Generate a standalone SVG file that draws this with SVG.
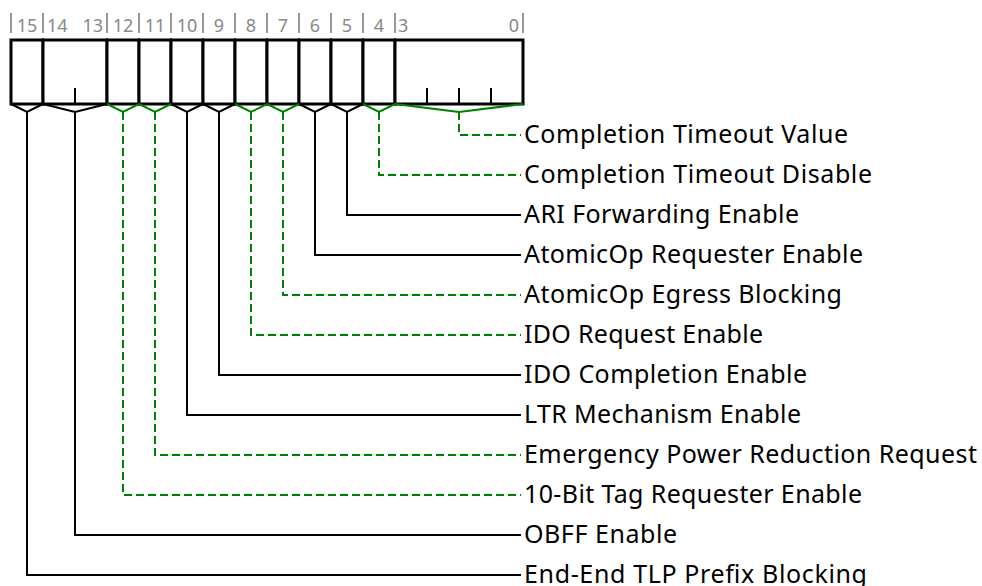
<svg xmlns="http://www.w3.org/2000/svg" width="982" height="586" viewBox="0 0 982 586">
<style>
.box{fill:#fff;stroke:#000;stroke-width:3}
.tick{stroke:#000;stroke-width:2}
.sep{stroke:#999;stroke-width:2}
.bit{font-family:"Noto Sans","Liberation Sans",sans-serif;font-size:18px;fill:#888}
.mid{text-anchor:middle}
.end{text-anchor:end}
.lbl{font-family:"Noto Sans","Liberation Sans",sans-serif;font-size:25px;fill:#000}
.c{fill:none;stroke:#000;stroke-width:2}
.g{fill:none;stroke:#008000;stroke-width:2}
.d{stroke-dasharray:8 4}
</style>
<rect width="982" height="586" fill="#fff"/>
<g id="separators">
<path class="sep" d="M11,13V33M43,13V33M107,13V33M139,13V33M171,13V33M203,13V33M235,13V33M267,13V33M299,13V33M331,13V33M363,13V33M395,13V33M523,13V33"/>
</g>
<g id="bit15"><rect class="box" x="11" y="40" width="32" height="64"/><text class="bit mid" x="27" y="32">15</text></g>
<g id="bit14_13"><rect class="box" x="43" y="40" width="64" height="64"/><line class="tick" x1="75" y1="88" x2="75" y2="104"/><text class="bit" x="47" y="32">14</text><text class="bit end" x="103" y="32">13</text></g>
<g id="bit12"><rect class="box" x="107" y="40" width="32" height="64"/><text class="bit mid" x="123" y="32">12</text></g>
<g id="bit11"><rect class="box" x="139" y="40" width="32" height="64"/><text class="bit mid" x="155" y="32">11</text></g>
<g id="bit10"><rect class="box" x="171" y="40" width="32" height="64"/><text class="bit mid" x="187" y="32">10</text></g>
<g id="bit9"><rect class="box" x="203" y="40" width="32" height="64"/><text class="bit mid" x="219" y="32">9</text></g>
<g id="bit8"><rect class="box" x="235" y="40" width="32" height="64"/><text class="bit mid" x="251" y="32">8</text></g>
<g id="bit7"><rect class="box" x="267" y="40" width="32" height="64"/><text class="bit mid" x="283" y="32">7</text></g>
<g id="bit6"><rect class="box" x="299" y="40" width="32" height="64"/><text class="bit mid" x="315" y="32">6</text></g>
<g id="bit5"><rect class="box" x="331" y="40" width="32" height="64"/><text class="bit mid" x="347" y="32">5</text></g>
<g id="bit4"><rect class="box" x="363" y="40" width="32" height="64"/><text class="bit mid" x="379" y="32">4</text></g>
<g id="bit3_0"><rect class="box" x="395" y="40" width="128" height="64"/><path class="tick" d="M427,88V104M459,88V104M491,88V104"/><text class="bit" x="398" y="32">3</text><text class="bit end" x="519" y="32">0</text></g>

<g id="connectors">
<path class="g" d="M395,104L459,112L523,104"/><path class="g d" d="M459,112V135H521"/>
<path class="g" d="M363,104L379,112L395,104"/><path class="g d" d="M379,112V175H521"/>
<path class="c" d="M331,104L347,112L363,104M347,112V215H521"/>
<path class="c" d="M299,104L315,112L331,104M315,112V255H521"/>
<path class="g" d="M267,104L283,112L299,104"/><path class="g d" d="M283,112V295H521"/>
<path class="g" d="M235,104L251,112L267,104"/><path class="g d" d="M251,112V335H521"/>
<path class="c" d="M203,104L219,112L235,104M219,112V375H521"/>
<path class="c" d="M171,104L187,112L203,104M187,112V415H521"/>
<path class="g" d="M139,104L155,112L171,104"/><path class="g d" d="M155,112V455H521"/>
<path class="g" d="M107,104L123,112L139,104"/><path class="g d" d="M123,112V495H521"/>
<path class="c" d="M43,104L75,112L107,104M75,112V535H521"/>
<path class="c" d="M11,104L27,112L43,104M27,112V575H521"/>
</g>

<g id="label-ctv"><text class="lbl" x="524" y="143" textLength="324">Completion Timeout Value</text></g>
<g id="label-ctd"><text class="lbl" x="524" y="183" textLength="348">Completion Timeout Disable</text></g>
<g id="label-ari"><text class="lbl" x="524" y="223" textLength="275">ARI Forwarding Enable</text></g>
<g id="label-aore"><text class="lbl" x="524" y="263" textLength="339">AtomicOp Requester Enable</text></g>
<g id="label-aoeb"><text class="lbl" x="524" y="303" textLength="318">AtomicOp Egress Blocking</text></g>
<g id="label-idor"><text class="lbl" x="524" y="343" textLength="239">IDO Request Enable</text></g>
<g id="label-idoc"><text class="lbl" x="524" y="383" textLength="283">IDO Completion Enable</text></g>
<g id="label-ltr"><text class="lbl" x="524" y="423" textLength="277">LTR Mechanism Enable</text></g>
<g id="label-epr"><text class="lbl" x="524" y="463" textLength="453">Emergency Power Reduction Request</text></g>
<g id="label-tag"><text class="lbl" x="524" y="503" textLength="338">10-Bit Tag Requester Enable</text></g>
<g id="label-obff"><text class="lbl" x="524" y="543" textLength="153">OBFF Enable</text></g>
<g id="label-e2e"><text class="lbl" x="524" y="583" textLength="343">End-End TLP Prefix Blocking</text></g>
</svg>
